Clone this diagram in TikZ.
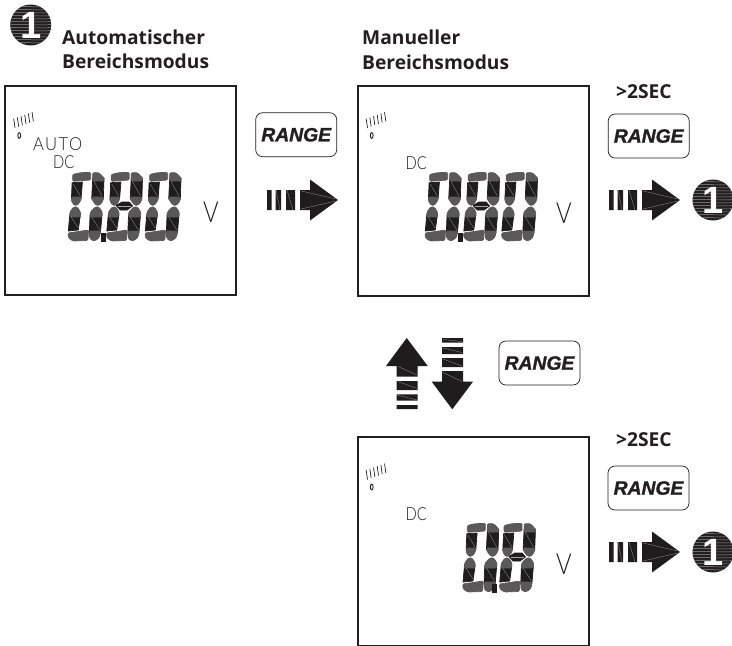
\documentclass[tikz,border=0pt]{standalone}
\usepackage{fontspec}
\setmainfont{Open Sans}
\newfontfamily\thinf{Lato}[UprightFont=* Light,FakeStretch=0.82]
\newfontfamily\thinauto{Lato}[UprightFont=* Light,FakeStretch=0.92,LetterSpace=8]
\newfontfamily\rangef{Liberation Sans}[BoldItalicFeatures={FakeBold=1.2}]
\newfontfamily\onef{Liberation Sans}
\usetikzlibrary{calc}
\definecolor{ink}{HTML}{231F20}
\definecolor{segdark}{HTML}{1E1C1D}
\definecolor{seggray}{HTML}{5A5859}
\tikzset{
  frame/.style={draw=ink,line width=1.6pt,fill=white,inner sep=0pt,anchor=north west},
  title/.style={font=\fontsize{19.2}{20}\selectfont\bfseries,text=ink,anchor=base west,inner sep=0pt},
  rangebtn/.style={draw=ink,line width=0.7pt,rounded corners=7pt,minimum width=81pt,minimum height=44pt,inner sep=0pt,font=\rangef\fontsize{19.3}{19}\selectfont\bfseries\itshape,text=ink},
  thin/.style={font=\thinf\fontsize{18}{18}\selectfont,text=ink,anchor=base west,inner sep=0pt},
  bigthin/.style={font=\thinf\fontsize{29}{29}\selectfont,text=ink,anchor=base west,inner sep=0pt},
  segd/.style={fill=segdark,draw=segdark,line width=0.7pt,line join=round},
  segg/.style={fill=seggray,draw=seggray,line width=0.7pt,line join=round,rounded corners=1.2pt},
  hair/.style={draw=gray!70,line width=0.25pt},
  block/.style={fill=segdark,draw=none},
  badge/.style={circle,fill=ink,minimum size=41pt,inner sep=0pt},
  badgeone/.style={font=\onef\fontsize{38}{38}\selectfont\bfseries,text=white,inner sep=0pt},
}
% one seven-segment digit; #3 = 1 draws the middle bar
\newcommand{\lcddigit}[3]{%
\begin{scope}[shift={(#1,#2)},xscale=1.03]
 \path[segg] (4.5,2.5) -- (12,0.7) -- (22,0.3) -- (22,8) -- (4.5,9.3) -- cycle;
 \path[segd] (4,10.7) -- (14,10) -- (12.7,27) -- (3.3,27) -- cycle;
 \path[segg] (3.3,25) -- (12.9,25) -- (12.2,29) -- (9,33.3) -- (6,33.3) -- (3.3,29) -- cycle;
 \path[segd] (24,6) -- (35,6) -- (34.3,27) -- (23,27) -- cycle;
 \path[segg] (23,25) -- (34.4,25) -- (34,29) -- (30.5,33.3) -- (27.5,33.3) -- (24,29) -- cycle;
 \path[segg] (24,0.7) -- (30,0.7) -- (35,6) -- (35,9) -- (24,9) -- cycle;
 \path[segd] (1.7,43) -- (12,43) -- (10,58) -- (0.3,59) -- cycle;
 \path[segg] (1.5,45) -- (12,45) -- (12.2,40) -- (9,35) -- (5.5,35) -- (1.9,40) -- cycle;
 \path[segd] (21.4,43) -- (33,43) -- (31.5,61) -- (20.7,61) -- cycle;
 \path[segg] (21.3,45) -- (33,45) -- (33.3,40) -- (30,35) -- (26.5,35) -- (21.7,40) -- cycle;
 \path[segg] (20.7,59) -- (31.7,59) -- (30.7,65) -- (27,68.5) -- (23.3,68.5) -- (21,66) -- cycle;
 \path[segg] (0,61) -- (20,58) -- (19.3,68.5) -- (5,69) -- (0.5,66) -- cycle;
 \draw[hair] (5,12) -- (12,24) (25,9) -- (33,24) (3,45) -- (10,56) (23,45) -- (31,58);
 \ifnum#3=1
  \path[segd] (9.3,33.5) -- (15,30) -- (22,30) -- (25.3,34) -- (20,38) -- (13.3,38) -- cycle;
  \draw[hair] (11,34) -- (24,34);
 \fi
\end{scope}}
\newcommand{\lcdpoint}[2]{\fill[segdark] (#1,#2) rectangle ++(5.5,9);}
% bar-graph scale with its zero
\newcommand{\meter}[2]{%
\begin{scope}[shift={(#1,#2)}]
 \foreach \i in {0,...,5}{
  \draw[ink,line width=0.7pt] ({1+3.67*\i},{15-1.33*\i}) -- ({-0.3+3.67*\i},{5.7-1.33*\i});}
 \draw[ink,line width=0.9pt] (5.2,22.5) ellipse (1.4pt and 2.9pt);
\end{scope}}
% striped arrow pointing right, tip at (x,y)
\newcommand{\rightblock}[2]{%
\begin{scope}[shift={(#1,#2)}]
 \fill[block] (-71,-10) rectangle (-66.5,10) (-62.5,-10) rectangle (-57,10) (-52,-10) rectangle (-43,10);
 \fill[block] (-38,-10) -- (-28,-10) -- (-28,-20.5) -- (0,0) -- (-28,20.5) -- (-28,10) -- (-38,10) -- cycle;
 \draw[hair] (-62,-10) -- (-58,10) (-51,-10) -- (-45,10) (-37,-9) -- (-2,-1) (-37,9) -- (-2,1);
\end{scope}}
\newcommand{\onebadge}[3]{%
 \node[badge] (#3) at (#1,#2) {};
 \begin{scope}
  \clip (#1,#2) circle (20.5pt);
  \foreach \k in {-18.5,-15.5,...,19}{
   \draw[gray!85,line width=0.5pt] ($(#1,#2)+(-21,\k)$) .. controls ($(#1,#2)+(-8,\k-1)$) and ($(#1,#2)+(6,\k+1.5)$) .. ($(#1,#2)+(21,\k)$);}
 \end{scope}
 \node[badgeone] at (#1,#2) {1};}
\begin{document}
\begin{tikzpicture}[x=1pt,y=-1pt]
\useasboundingbox (0,0) rectangle (732,646);
\fill[white] (0,0) rectangle (732,646);
% panels
\node[frame,minimum width=231pt,minimum height=209pt] (p1) at (4,85) {};
\node[frame,minimum width=231pt,minimum height=210pt] (p2) at (357,85) {};
\node[frame,minimum width=231pt,minimum height=209pt] (p3) at (357,436) {};
% titles
\onebadge{30.7}{25}{b0}
\node[title] (t1a) at (62,44) {Automatischer};
\node[title] (t1b) at (62,68) {Bereichsmodus};
\node[title] (t2a) at (362,44) {Manueller};
\node[title] (t2b) at (362,69) {Bereichsmodus};
\node[title] (s1) at (616,98) {>2SEC};
\node[title] (s2) at (616,446) {>2SEC};
% panel 1
\meter{14}{113}
\node[thin,font=\thinauto\fontsize{18}{18}\selectfont] (auto) at (33,150) {AUTO};
\node[thin] (dc1) at (53,168) {DC};
\lcddigit{68}{172}{0}\lcddigit{106.5}{172}{1}\lcddigit{145}{172}{0}
\lcdpoint{100.5}{233}
\node[bigthin] (v1) at (203,222) {V};
% panel 2
\meter{366.5}{113}
\node[thin] (dc2) at (405.5,169) {DC};
\lcddigit{425}{172}{0}\lcddigit{463.5}{172}{1}\lcddigit{501.5}{172}{0}
\lcdpoint{457.5}{233}
\node[bigthin] (v2) at (556,223) {V};
% panel 3
\meter{366.5}{464.5}
\node[thin] (dc3) at (405.5,520) {DC};
\lcddigit{462.7}{523}{0}\lcddigit{499.4}{523}{1}
\lcdpoint{491.5}{584}
\node[bigthin] (v3) at (556,574) {V};
% buttons
\node[rangebtn] (r1) at (296.2,134.7) {RANGE};
\node[rangebtn] (r2) at (648.7,136) {RANGE};
\node[rangebtn] (r3) at (539.5,363) {RANGE};
\node[rangebtn] (r4) at (648.5,488) {RANGE};
% arrows
\rightblock{338}{200}
\rightblock{680}{200}
\rightblock{680}{552}
% up arrow
\fill[block] (406.7,338) -- (427.7,366) -- (417.7,366) -- (417.7,376.7) -- (396.7,376.7) -- (396.7,366) -- (386,366) -- cycle;
\fill[block] (396.7,381) rectangle (417.7,390) (396.7,394.3) rectangle (417.7,400.7) (396.7,405) rectangle (417.7,409);
\draw[hair] (398,366.5) -- (417,375) (398,381.5) -- (417,388.5) (397,395) -- (417,400) ;
% down arrow
\fill[block] (452.3,409.3) -- (473,381.7) -- (463,381.7) -- (463,371) -- (442,371) -- (442,381.7) -- (431.7,381.7) -- cycle;
\fill[block] (442,338) rectangle (463,342.7) (442,347) rectangle (463,354) (442,358) rectangle (463,367);
\draw[hair] (443,339.5) -- (462,341.5) (443,348) -- (462,352.5) (443,359) -- (462,366) (443,372.5) -- (462,381.5);
% badges on the right
\onebadge{713}{200}{b1}
\onebadge{713}{552}{b2}
\end{tikzpicture}
\end{document}
